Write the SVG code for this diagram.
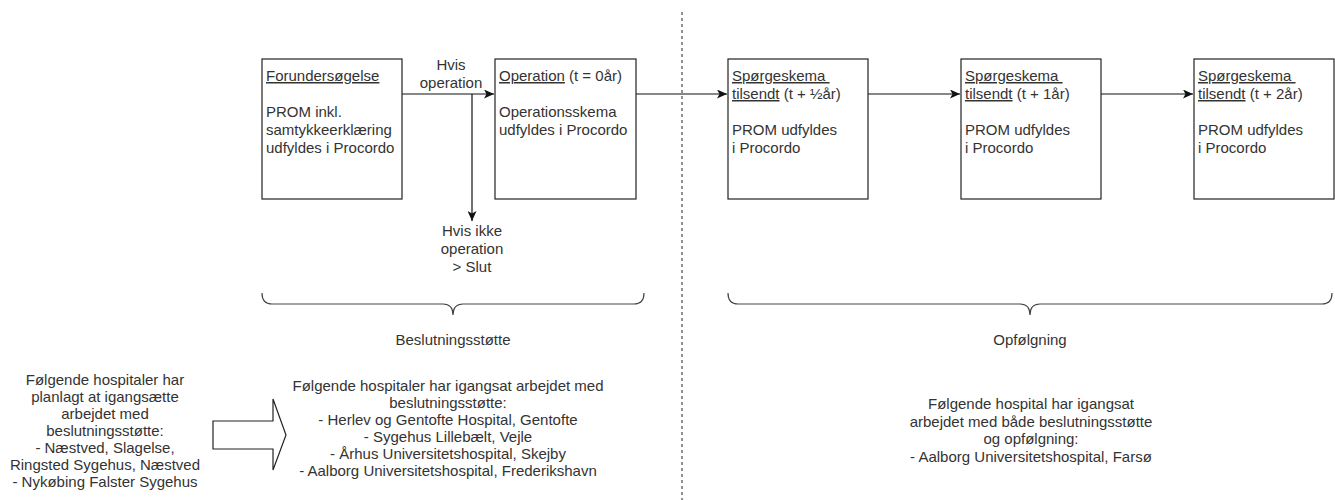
<svg xmlns="http://www.w3.org/2000/svg" width="1335" height="500" viewBox="0 0 1335 500">
<style>
text{font-family:"Liberation Sans",Arial,sans-serif;font-size:15px;fill:#333333}
.c{text-anchor:middle}
.box{fill:#ffffff;stroke:#222222;stroke-width:1.2}
.edge{fill:none;stroke:#111111;stroke-width:1.2}
.brace{fill:none;stroke:#444444;stroke-width:1.2}
.u{text-decoration:underline}
</style>
<defs>
<marker id="arr" markerUnits="userSpaceOnUse" markerWidth="11" markerHeight="9" refX="10" refY="4.5" orient="auto">
<path d="M0,0 L10,4.5 L0,9 L2.5,4.5 Z" fill="#111111"/>
</marker>
</defs>
<rect width="1335" height="500" fill="#ffffff"/>
<line x1="682" y1="12" x2="682" y2="500" stroke="#222222" stroke-width="1" stroke-dasharray="3,3"/>
<g id="connectors">
<line class="edge" x1="402" y1="94" x2="494" y2="94" marker-end="url(#arr)"/>
<line class="edge" x1="472" y1="94" x2="472" y2="221" marker-end="url(#arr)"/>
<line class="edge" x1="636" y1="94" x2="727" y2="94" marker-end="url(#arr)"/>
<line class="edge" x1="868" y1="94" x2="960" y2="94" marker-end="url(#arr)"/>
<line class="edge" x1="1101" y1="94" x2="1193" y2="94" marker-end="url(#arr)"/>
</g>
<g id="label-hvis">
<text class="c" x="451" y="70">Hvis</text>
<text class="c" x="451" y="88">operation</text>
</g>
<g id="label-hvis-ikke">
<text class="c" x="472" y="236">Hvis ikke</text>
<text class="c" x="472" y="254">operation</text>
<text class="c" x="472" y="272">&gt; Slut</text>
</g>
<g id="node-forundersoegelse">
<rect class="box" x="262" y="59" width="140" height="140"/>
<text x="266" y="81"><tspan class="u">Forundersøgelse</tspan></text>
<text x="266" y="117">PROM inkl.</text>
<text x="266" y="135">samtykkeerklæring</text>
<text x="266" y="153">udfyldes i Procordo</text>
</g>
<g id="node-operation">
<rect class="box" x="495" y="59" width="141" height="140"/>
<text x="499" y="81"><tspan class="u">Operation</tspan> (t = 0år)</text>
<text x="499" y="117">Operationsskema</text>
<text x="499" y="135">udfyldes i Procordo</text>
</g>
<g id="node-sp1">
<rect class="box" x="728" y="59" width="140" height="140"/>
<text x="732" y="81" xml:space="preserve"><tspan class="u">Spørgeskema </tspan></text>
<text x="732" y="99"><tspan class="u">tilsendt</tspan> (t + ½år)</text>
<text x="732" y="135">PROM udfyldes</text>
<text x="732" y="153">i Procordo</text>
</g>
<g id="node-sp2">
<rect class="box" x="961" y="59" width="140" height="140"/>
<text x="965" y="81" xml:space="preserve"><tspan class="u">Spørgeskema </tspan></text>
<text x="965" y="99"><tspan class="u">tilsendt</tspan> (t + 1år)</text>
<text x="965" y="135">PROM udfyldes</text>
<text x="965" y="153">i Procordo</text>
</g>
<g id="node-sp3">
<rect class="box" x="1194" y="59" width="140" height="140"/>
<text x="1198" y="81" xml:space="preserve"><tspan class="u">Spørgeskema </tspan></text>
<text x="1198" y="99"><tspan class="u">tilsendt</tspan> (t + 2år)</text>
<text x="1198" y="135">PROM udfyldes</text>
<text x="1198" y="153">i Procordo</text>
</g>
<g id="brace-beslutning">
<path class="brace" d="M262,293 Q262,304 272,304 L443,304 Q453,304 453,315 Q453,304 463,304 L634,304 Q644,304 644,293"/>
<text class="c" x="453" y="345">Beslutningsstøtte</text>
</g>
<g id="brace-opfoelgning">
<path class="brace" d="M728,293 Q728,304 738,304 L1020,304 Q1030,304 1030,315 Q1030,304 1040,304 L1322,304 Q1332,304 1332,293"/>
<text class="c" x="1030" y="345">Opfølgning</text>
</g>
<g id="text-planlagt">
<text class="c" x="105" y="385">Følgende hospitaler har</text>
<text class="c" x="105" y="402">planlagt at igangsætte</text>
<text class="c" x="105" y="419">arbejdet med</text>
<text class="c" x="105" y="436">beslutningsstøtte:</text>
<text class="c" x="105" y="453">- Næstved, Slagelse,</text>
<text class="c" x="105" y="470">Ringsted Sygehus, Næstved</text>
<text class="c" x="105" y="487">- Nykøbing Falster Sygehus</text>
</g>
<g id="block-arrow">
<path d="M213,421 L273,421 L273,399 L286,435 L273,470 L273,449 L213,449 Z" fill="#ffffff" stroke="#222222" stroke-width="1.2"/>
</g>
<g id="text-igangsat">
<text class="c" x="448" y="391">Følgende hospitaler har igangsat arbejdet med</text>
<text class="c" x="448" y="408">beslutningsstøtte:</text>
<text class="c" x="448" y="425">- Herlev og Gentofte Hospital, Gentofte</text>
<text class="c" x="448" y="442">- Sygehus Lillebælt, Vejle</text>
<text class="c" x="448" y="459">- Århus Universitetshospital, Skejby</text>
<text class="c" x="448" y="476">- Aalborg Universitetshospital, Frederikshavn</text>
</g>
<g id="text-begge">
<text class="c" x="1031" y="409">Følgende hospital har igangsat</text>
<text class="c" x="1031" y="426.5">arbejdet med både beslutningsstøtte</text>
<text class="c" x="1031" y="444">og opfølgning:</text>
<text class="c" x="1031" y="461.5">- Aalborg Universitetshospital, Farsø</text>
</g>
</svg>
